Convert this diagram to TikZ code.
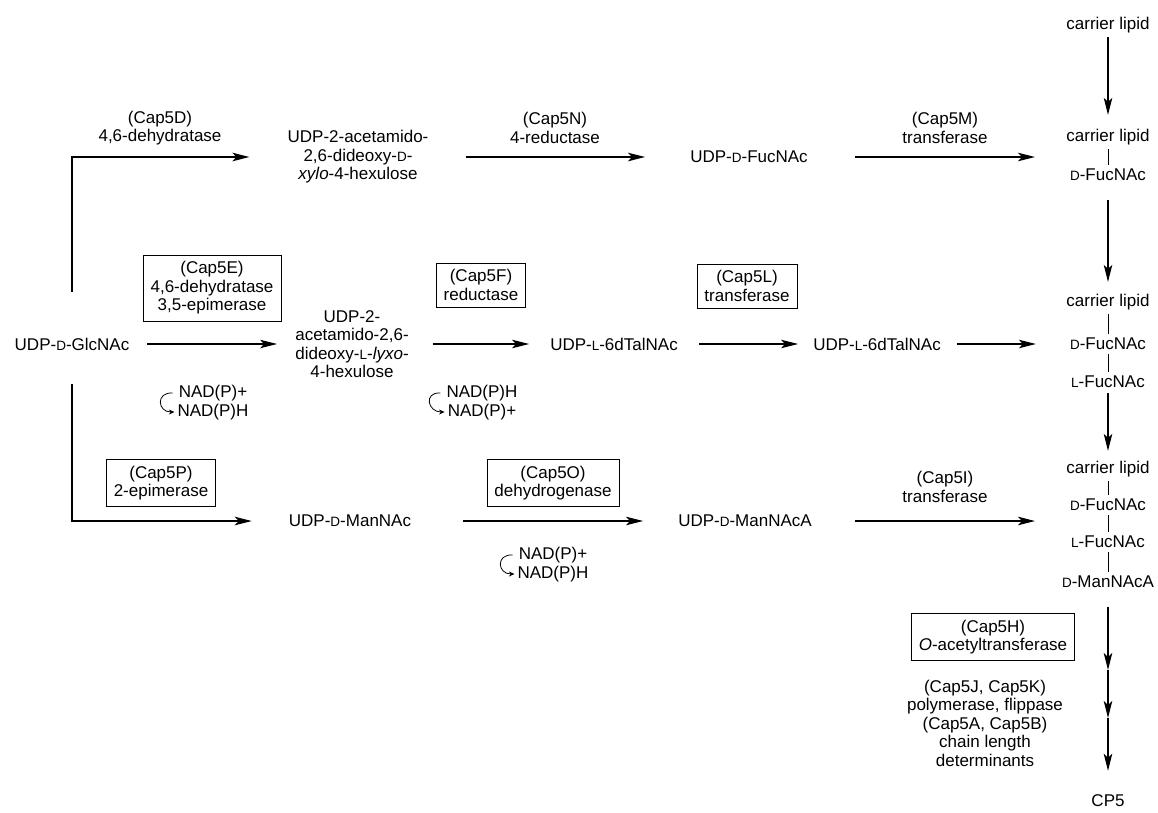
\documentclass[tikz,border=0pt]{standalone}
\usepackage{fontspec}
\setmainfont{Liberation Sans}
\usetikzlibrary{arrows.meta}
\newcommand{\Dsc}{{\fontsize{13.5}{13.5}\selectfont D}}
\newcommand{\Lsc}{{\fontsize{13.5}{13.5}\selectfont L}}
\tikzset{
  every node/.style={font=\fontsize{17}{18.5}\selectfont, align=center, inner sep=2pt},
  enzbox/.style={draw, line width=0.7pt, inner xsep=7.5pt, inner ysep=6.5pt},
  rxn/.style={-{Stealth[length=17pt,width=8.5pt,inset=4pt]}, line width=1.1pt},
  rxnthick/.style={rxn, line width=1.8pt},
  bond/.style={line width=0.8pt, shorten <=2pt, shorten >=2pt},
  cofac/.style={-{Stealth[length=5.5pt,width=5pt]}, line width=0.8pt}
}
\begin{document}
\begin{tikzpicture}[x=1pt,y=-1pt]
    \useasboundingbox (0,0) rectangle (1158,812);

    % sugar nucleotides
    \node (glc) at (72,344) {UDP-\Dsc-GlcNAc};
    \node (xylo) at (358,157) {UDP-2-acetamido-\\2,6-dideoxy-\Dsc-\\\textit{xylo}-4-hexulose};
    \node (fucD) at (749,157) {UDP-\Dsc-FucNAc};
    \node (lyxo) at (352,344) {UDP-2-\\acetamido-2,6-\\dideoxy-\Lsc-\textit{lyxo}-\\4-hexulose};
    \node (tal1) at (614,344) {UDP-\Lsc-6dTalNAc};
    \node (tal2) at (877,344) {UDP-\Lsc-6dTalNAc};
    \node (man) at (350,521) {UDP-\Dsc-ManNAc};
    \node (manA) at (745,521) {UDP-\Dsc-ManNAcA};

    % lipid-linked intermediates
    \node (cl0) at (1108,25) {carrier lipid};
    \node (cl1) at (1108,137) {carrier lipid};
    \node (df1) at (1108,175) {\Dsc-FucNAc};
    \node (cl2) at (1108,302) {carrier lipid};
    \node (df2) at (1108,344) {\Dsc-FucNAc};
    \node (lf2) at (1108,382) {\Lsc-FucNAc};
    \node (cl3) at (1108,469) {carrier lipid};
    \node (df3) at (1108,505) {\Dsc-FucNAc};
    \node (lf3) at (1108,542) {\Lsc-FucNAc};
    \node (dm3) at (1108,582) {\Dsc-ManNAcA};
    \node (cp5) at (1108,801) {CP5};
    \coordinate (lip1) at (1108,157);
    \coordinate (lip3) at (1108,521);
    \coordinate (h1) at (1108,670);
    \coordinate (h2) at (1108,718);

    \draw[bond] (cl1) -- (df1);
    \draw[bond] (cl2) -- (df2);
    \draw[bond] (df2) -- (lf2);
    \draw[bond] (cl3) -- (df3);
    \draw[bond] (df3) -- (lf3);
    \draw[bond] (lf3) -- (dm3);

    % enzymes
    \node (cD) at (160,128) {(Cap5D)\\4,6-dehydratase};
    \node (cN) at (555,128) {(Cap5N)\\4-reductase};
    \node (cM) at (945,128) {(Cap5M)\\transferase};
    \node[enzbox] (cE) at (212,288) {(Cap5E)\\4,6-dehydratase\\3,5-epimerase};
    \node[enzbox] (cF) at (481,285) {(Cap5F)\\reductase};
    \node[enzbox] (cL) at (747,286) {(Cap5L)\\transferase};
    \node[enzbox] (cP) at (161,483) {(Cap5P)\\2-epimerase};
    \node[enzbox] (cO) at (553,483) {(Cap5O)\\dehydrogenase};
    \node (cI) at (945,487) {(Cap5I)\\transferase};
    \node[enzbox] (cH) at (993,637) {(Cap5H)\\\textit{O}-acetyltransferase};
    \node (cJ) at (985,723) {(Cap5J, Cap5K)\\polymerase, flippase\\(Cap5A, Cap5B)\\chain length\\determinants};

    % cofactors
    \node (nE1) at (213,393) {NAD(P)+};
    \node (nE2) at (213,412) {NAD(P)H};
    \node (nF1) at (482,393) {NAD(P)H};
    \node (nF2) at (482,412) {NAD(P)+};
    \node (nO1) at (553,555) {NAD(P)+};
    \node (nO2) at (553,574) {NAD(P)H};
    \draw[cofac] ([xshift=-4pt]nE1.west) .. controls +(-17pt,1pt) and +(-17pt,0) .. ([xshift=-1pt]nE2.west);
    \draw[cofac] ([xshift=-4pt]nF1.west) .. controls +(-17pt,1pt) and +(-17pt,0) .. ([xshift=-1pt]nF2.west);
    \draw[cofac] ([xshift=-4pt]nO1.west) .. controls +(-17pt,1pt) and +(-17pt,0) .. ([xshift=-1pt]nO2.west);

    % reactions
    \draw[rxnthick, shorten <=44pt, shorten >=36pt] (glc.north) |- (xylo.west);
    \draw[rxnthick, shorten <=35pt, shorten >=43pt] (xylo) -- (fucD);
    \draw[rxnthick, shorten <=45pt, shorten >=73pt] (fucD) -- (lip1);
    \draw[rxn, shorten <=16pt, shorten >=16pt] (glc) -- (lyxo);
    \draw[rxn, shorten <=22pt, shorten >=19pt] (lyxo) -- (tal1);
    \draw[rxn, shorten <=19pt, shorten >=13pt] (tal1) -- (tal2);
    \draw[rxn, shorten <=14pt, shorten >=32pt] (tal2) -- (df2);
    \draw[rxn, shorten <=32pt, shorten >=35pt] (glc.south) |- (man.west);
    \draw[rxn, shorten <=50pt, shorten >=33pt] (man) -- (manA);
    \draw[rxn, shorten <=41pt, shorten >=73pt] (manA) -- (lip3);

    \draw[rxn, shorten <=2pt, shorten >=12pt] (cl0) -- (cl1);
    \draw[rxn, shorten <=17pt, shorten >=10pt] (df1) -- (cl2);
    \draw[rxn, shorten <=3pt, shorten >=8pt] (lf2) -- (cl3);
    \draw[rxn, shorten <=17pt] (dm3) -- (h1);
    \draw[rxn] (h1) -- (h2);
    \draw[rxn, shorten >=22pt] (h2) -- (cp5);
\end{tikzpicture}
\end{document}
